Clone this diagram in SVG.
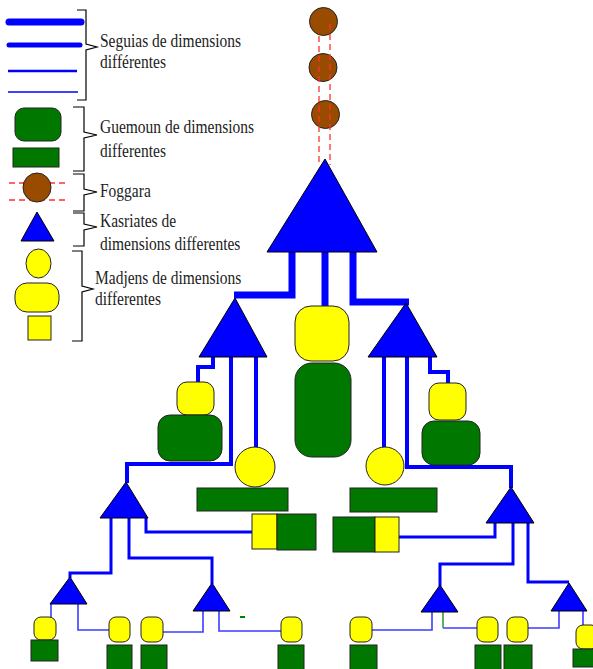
<svg xmlns="http://www.w3.org/2000/svg" width="593" height="669" viewBox="0 0 593 669">
<style>
.bl{fill:#0000ff;stroke:#000;stroke-width:1}
.gr{fill:#007800;stroke:#222;stroke-width:1}
.ye{fill:#ffff00;stroke:#222;stroke-width:1}
.fo{fill:#994c00;stroke:#222;stroke-width:1}
.s1{fill:none;stroke:#0000ff;stroke-width:7}
.s2{fill:none;stroke:#0000ff;stroke-width:4}
.s3{fill:none;stroke:#0000ff;stroke-width:3}
.s4{fill:none;stroke:#3c3cff;stroke-width:1.6}
.dash{stroke:#ff3030;stroke-width:1.3;stroke-dasharray:6,4;fill:none}
.br{fill:none;stroke:#000;stroke-width:1.2}
text{font-family:"Liberation Serif","Times New Roman",serif;font-size:15.5px;fill:#222}
</style>

<g id="legend">
  <g id="legend-seguias">
    <line x1="9" y1="22" x2="81" y2="22" stroke="#0000ff" stroke-width="7" stroke-linecap="round"/>
    <line x1="9" y1="45" x2="80" y2="45" stroke="#0000ff" stroke-width="5" stroke-linecap="round"/>
    <line x1="8" y1="71" x2="77" y2="71" stroke="#0000ff" stroke-width="2.5"/>
    <line x1="8" y1="92" x2="78" y2="92" stroke="#0000ff" stroke-width="1.5"/>
    <path class="br" d="M77,10 H86 V44 L97,47 L86,50 V100 H77"/>
    <text transform="translate(100,47) scale(1,1.2)">Seguias de dimensions</text>
    <text transform="translate(100,68) scale(1,1.2)">différentes</text>
  </g>
  <g id="legend-guemoun">
    <rect class="gr" x="15" y="108" width="46" height="33" rx="9"/>
    <rect class="gr" x="13" y="148" width="46" height="19"/>
    <path class="br" d="M73,107 H84 V132 L97,135 L84,138 V171 H73"/>
    <text transform="translate(100,133) scale(1,1.2)">Guemoun de dimensions</text>
    <text transform="translate(100,157) scale(1,1.2)">differentes</text>
  </g>
  <g id="legend-foggara">
    <line class="dash" x1="9" y1="183" x2="68" y2="183"/>
    <line class="dash" x1="9" y1="200" x2="68" y2="200"/>
    <ellipse class="fo" cx="37" cy="187.5" rx="14" ry="14.5"/>
    <path class="br" d="M73,174 H84 V189 L97,192 L84,195 V211 H73"/>
    <text transform="translate(100,197) scale(1,1.2)">Foggara</text>
  </g>
  <g id="legend-kasriates">
    <polygon class="bl" points="37,212 54,241 21,241"/>
    <path class="br" d="M73,213 H84 V224 L97,227 L84,230 V246 H73"/>
    <text transform="translate(100,227) scale(1,1.2)">Kasriates de</text>
    <text transform="translate(100,250) scale(1,1.2)">dimensions differentes</text>
  </g>
  <g id="legend-madjens">
    <ellipse class="ye" cx="38.5" cy="263.5" rx="12.5" ry="14.5"/>
    <rect class="ye" x="15" y="283" width="44" height="29" rx="12"/>
    <rect class="ye" x="28" y="316" width="23" height="24"/>
    <path class="br" d="M72,251 H82 V286 L93,289 L82,292 V341 H72"/>
    <text transform="translate(95,284) scale(1,1.2)">Madjens de dimensions</text>
    <text transform="translate(95,305) scale(1,1.2)">differentes</text>
  </g>
</g>

<g id="connectors">
  <path class="s1" d="M292,252 V295 H234"/>
  <path class="s1" d="M325,252 V308"/>
  <path class="s1" d="M353,252 V302 H409"/>
  <path class="s2" d="M213,357 V367 H198 V383"/>
  <path class="s2" d="M231,357 V464 H127 V483"/>
  <path class="s2" d="M256,357 V450"/>
  <path class="s2" d="M384,357 V449"/>
  <path class="s2" d="M407,357 V467 H511 V488"/>
  <path class="s2" d="M430,357 V372 H448 V384"/>
  <path class="s3" d="M146,518 V532 H253"/>
  <path class="s3" d="M129,518 V558 H212 V584"/>
  <path class="s3" d="M111,518 V573 H70 V578"/>
  <path class="s3" d="M495,523 V537 H398"/>
  <path class="s3" d="M513,523 V564 H440 V586"/>
  <path class="s3" d="M528,523 V582 H569"/>
  <path class="s4" d="M51,604 V618"/>
  <path class="s4" d="M78,604 V630 H110"/>
  <path class="s4" d="M203,611 V632 H163"/>
  <path class="s4" d="M219,611 V631 H282"/>
  <path class="s4" d="M432,612 V630 H372"/>
  <path class="s4" d="M443,628 H478"/>
  <path d="M443,612 V628" fill="none" stroke="#3a9a3a" stroke-width="1.6"/>
  <path class="s4" d="M559,611 V628 H528"/>
  <path class="s4" d="M583,611 V626"/>
  <line x1="240" y1="617" x2="245" y2="617" stroke="#008000" stroke-width="2"/>
</g>

<g id="foggara">
  <circle class="fo" cx="323.5" cy="21.5" r="14"/>
  <circle class="fo" cx="323" cy="67.5" r="14"/>
  <circle class="fo" cx="325.5" cy="114.5" r="14"/>
  <line class="dash" x1="330" y1="24" x2="330" y2="165"/>
  <line class="dash" x1="319" y1="36" x2="319" y2="165"/>
</g>

<g id="kasria-main"><polygon class="bl" points="325,159 377,252 267,252"/></g>
<g id="kasria-left"><polygon class="bl" points="235,298 267,357 199,357"/></g>
<g id="kasria-right"><polygon class="bl" points="406,303 437,357 368,357"/></g>
<g id="kasria-lower-left"><polygon class="bl" points="126,482 148,518 100,518"/></g>
<g id="kasria-lower-right"><polygon class="bl" points="511,487 534,523 486,523"/></g>
<g id="kasria-bottom-1"><polygon class="bl" points="70,577 87,604 50,604"/></g>
<g id="kasria-bottom-2"><polygon class="bl" points="212,583 230,611 193,611"/></g>
<g id="kasria-bottom-3"><polygon class="bl" points="440,585 458,612 421,612"/></g>
<g id="kasria-bottom-4"><polygon class="bl" points="569,583 587,611 551,611"/></g>

<g id="center-unit">
  <rect class="ye" x="295" y="306" width="54" height="55" rx="16"/>
  <rect class="gr" x="295" y="363" width="56" height="94" rx="17"/>
</g>
<g id="left-unit">
  <rect class="ye" x="177" y="382" width="37" height="33" rx="10"/>
  <rect class="gr" x="158" y="415" width="64" height="46" rx="12"/>
</g>
<g id="right-unit">
  <rect class="ye" x="429" y="383" width="37" height="37" rx="10"/>
  <rect class="gr" x="422" y="421" width="58" height="44" rx="12"/>
</g>
<g id="left-circle-unit">
  <circle class="ye" cx="255" cy="467" r="20"/>
  <rect class="gr" x="197" y="488" width="91" height="23"/>
</g>
<g id="right-circle-unit">
  <circle class="ye" cx="385" cy="466" r="19"/>
  <rect class="gr" x="350" y="488" width="87" height="24"/>
</g>
<g id="left-square-unit">
  <rect class="ye" x="252" y="514" width="25" height="35"/>
  <rect class="gr" x="277" y="514" width="39" height="36"/>
</g>
<g id="right-square-unit">
  <rect class="gr" x="333" y="517" width="42" height="35"/>
  <rect class="ye" x="375" y="517" width="24" height="35"/>
</g>

<g id="bottom-1">
  <rect class="ye" x="34" y="617" width="22" height="23" rx="7"/>
  <rect class="gr" x="31" y="640" width="27" height="21"/>
</g>
<g id="bottom-2">
  <rect class="ye" x="109" y="617" width="21" height="25" rx="7"/>
  <rect class="gr" x="107" y="645" width="25" height="26"/>
</g>
<g id="bottom-3">
  <rect class="ye" x="141" y="617" width="22" height="25" rx="7"/>
  <rect class="gr" x="141" y="645" width="26" height="26"/>
</g>
<g id="bottom-4">
  <rect class="ye" x="281" y="617" width="21" height="25" rx="7"/>
  <rect class="gr" x="278" y="645" width="26" height="26"/>
</g>
<g id="bottom-5">
  <rect class="ye" x="350" y="617" width="22" height="25" rx="7"/>
  <rect class="gr" x="350" y="645" width="27" height="26"/>
</g>
<g id="bottom-6">
  <rect class="ye" x="477" y="617" width="21" height="25" rx="7"/>
  <rect class="gr" x="475" y="645" width="26" height="26"/>
</g>
<g id="bottom-7">
  <rect class="ye" x="507" y="617" width="21" height="25" rx="7"/>
  <rect class="gr" x="504" y="645" width="28" height="26"/>
</g>
<g id="bottom-8">
  <rect class="ye" x="576" y="625" width="22" height="24" rx="7"/>
  <rect class="gr" x="573" y="649" width="25" height="18"/>
</g>
</svg>
